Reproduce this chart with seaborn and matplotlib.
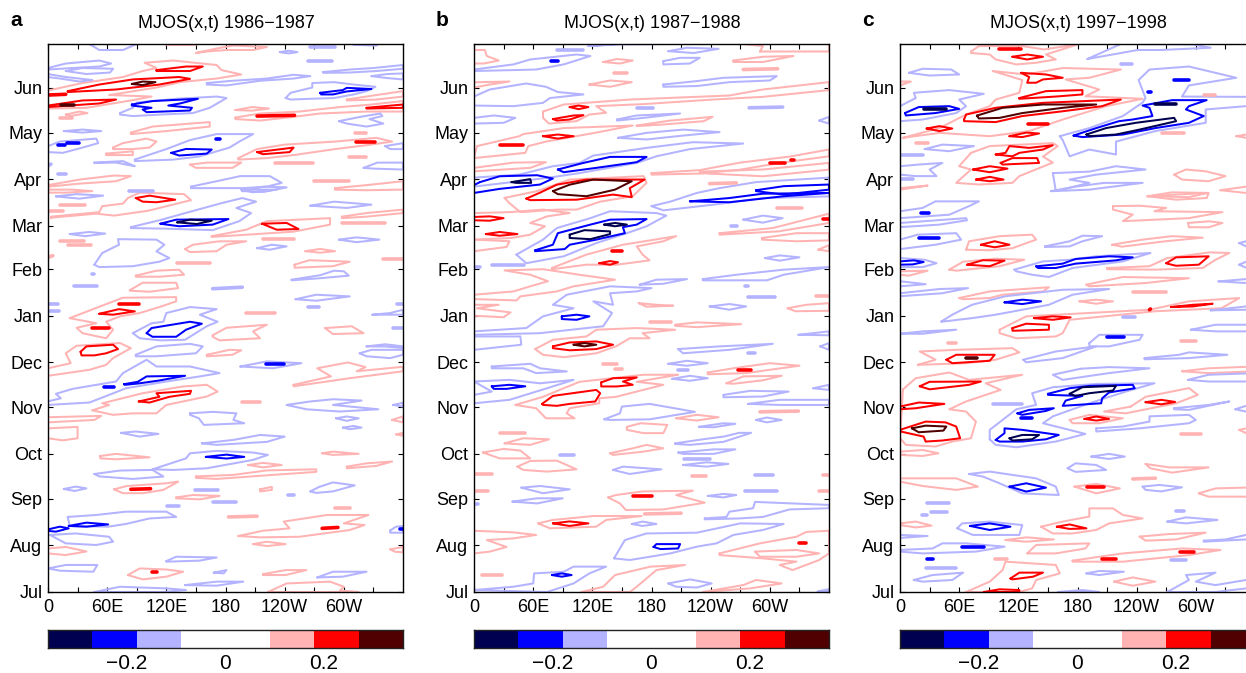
import numpy as np
import pandas as pd
import matplotlib.pyplot as plt
from matplotlib.colors import ListedColormap
import seaborn as sns

# Contour outlines: (longitude in degrees, days since 1 July)
titles = ["MJOS(x,t) 1986\u22121987", "MJOS(x,t) 1987\u22121988", "MJOS(x,t) 1997\u22121998"]
letters = ["a", "b", "c"]
month_names = ["Jul", "Aug", "Sep", "Oct", "Nov", "Dec", "Jan", "Feb", "Mar", "Apr", "May", "Jun"]
month_days = [0, 31, 62, 92, 123, 153, 184, 215, 244, 275, 306, 336]
lon_ticks = [0, 60, 120, 180, 240, 300]
lon_labels = ["0", "60E", "120E", "180", "120W", "60W"]
bar_bins = [-0.315, -0.225, -0.135, -0.045, 0.045, 0.135, 0.225, 0.315]
bar_ticks = [-0.2, 0, 0.2]
bar_labels = ["\u22120.2", "0", "0.2"]

a_weak_pos = [
    [(120,365),(150,365)],
    [(150,359),(171,362),(188,364),(222,363),(208,361),(181,361),(161,360)],
    [(0,334),(35,339),(76,343),(96,347),(110,349),(98,352.5),(127,354),(171,351),(176,347.6),(196,344.7),(171,342),(134,339.6),(110,336),(62,331),(105,330),(86,327.6),(39,322.5),(0,322)],
    [(12,316),(24,316)], [(18,318),(32,320),(40,319),(23,317)],
    [(190,321),(207,323),(224,322),(207,320.6)],
    [(190,316),(215,318.7),(255,320),(296,323),(325,324.5),(360,327),(360,320),(323,320),(276,318.7),(249,316.5),(215,314),(190,315)],
    [(303,328),(333,331),(360,333.6),(360,330),(333,328),(303,327.4)],
    [(84,306),(106,310),(164,313),(164,310),(120,307),(84,305)],
    [(66,296),(76,299),(100,302),(110,300),(103,296),(86,295),(66,295)],
    [(59,292),(86,293.5),(86,291),(59,291)],
    [(311,306),(322,306)],
    [(193,289),(212,295),(240,298),(291,300),(333,302.5),(349,300),(323,297.6),(291,295),(249,291),(222,289),(193,288)],
    [(305,289.5),(322,289.5)],
    [(144,284.7),(161,286),(196,286),(187,282.5),(150,282.5)],
    [(230,286),(269,286)],
    [(0,271),(32,274.7),(67,277.4),(84,277),(69,273.6),(32,272),(0,270)],
    [(0,268),(25,268),(45,267),(18,266),(0,266)],
    [(270,273.5),(305,273.5)],
    [(291,269),(323,271),(360,273.6),(360,268),(323,267.6),(291,268)],
    [(3,249.3),(49,252),(67,250.7),(102,254),(145,261),(138,265),(93,266),(81,262.4),(76,258.7),(55,257),(52,253),(3,250)],
    [(12,258),(38,258)], [(0,253.6),(15,253.6)],
    [(166,237),(201,241.3),(222,247),(286,249),(286,244.7),(249,240),(166,236.5)],
    [(298,250),(323,252.4),(360,254.7),(360,252.4),(323,250),(298,249)],
    [(298,245.8),(342,245.8)], [(218,235),(249,235)],
    [(139,228.4),(147,231.3),(174,233.6),(201,233.6),(181,231.3),(171,227),(144,226.4)],
    [(261,227),(276,228.5),(291,227),(276,226)],
    [(12,234),(37,234)], [(20,231),(44,231)],
    [(131,219),(164,219)],
    [(250,218),(265,221),(306,220),(289,217),(250,216)],
    [(340,222),(360,222)], [(0,223),(5,224)],
    [(89,210.7),(110,214),(133,214.7),(138,211.3),(113,210),(89,210)],
    [(83,201),(96,206),(130,206),(132,202.4),(103,200),(83,200.7)],
    [(22,182.4),(52,190),(76,196),(130,196.4),(130,193.6),(114,190),(93,185.8),(73,183.6),(59,180),(66,174.7),(59,169),(35,172.4),(29,176),(49,179)],
    [(201,186),(230,186)],
    [(167,171),(181,176),(222,178),(208,173.6),(215,169),(174,167.6),(167,170)],
    [(281,175.8),(308,177),(320,172.4),(289,171.8)],
    [(0,149),(23,152.4),(18,159),(29,164),(73,165.8),(84,162.4),(66,155.8),(59,151.3),(42,148),(0,144)],
    [(161,158),(184,161.3),(196,161),(187,158),(161,157)],
    [(249,138),(287,143.6),(273,149),(304,152.9),(322,149.8),(313,147),(360,150),(360,147),(306,142.4),(249,137)],
    [(45,121),(62,124.6),(55,125.7),(96,132.4),(137,136.9),(161,138),(172,133.5),(161,130.2),(120,124.6),(110,119),(86,119),(66,118)],
    [(197,126.4),(215,126.4)],
    [(0,116.4),(54,117.3),(47,114.6),(0,113)],
    [(0,109),(30,110),(30,102.4),(15,101),(0,102.4)],
    [(349,114.6),(360,117),(360,113)], [(353,105),(360,106),(360,104)],
    [(53,90.6),(69,92),(103,89.7),(69,88.4),(53,89)],
    [(278,92.4),(289,93.5),(315,92),(289,91.3)],
    [(203,84.6),(218,86),(237,84.6),(218,83)],
    [(150,77),(188,78),(222,81),(272,81.7),(272,80),(228,78),(171,75.3),(150,76)],
    [(303,83.5),(323,85.7),(349,86.9),(333,84),(303,82.4)],
    [(67,68.4),(80,70.6),(120,72.4),(132,73.5),(117,68),(96,65.8),(76,65.8)],
    [(215,68.4),(227,70),(227,68),(215,67)],
    [(130,63),(147,64.6),(174,64),(154,61.7),(130,62.4)],
    [(291,56),(306,56)], [(183,50),(212,50.5)],
    [(193,37.3),(218,40.8),(245,42.4),(239,46.9),(283,51.3),(325,51.3),(300,45.7),(321,44.6),(306,41.3),(255,36.8),(215,36.4)],
    [(208,31.9),(222,33.5),(241,31.9),(222,30.6)],
    [(0,29),(18,30),(39,27),(18,24.6),(0,25.7)],
    [(347,28.4),(360,30),(360,26.4),(352,26.8)],
    [(81,11.3),(93,15.7),(120,15),(137,13.5),(120,10.2),(96,8.4)],
    [(218,11.9),(241,14.6),(262,14.6),(241,11.3),(218,11.3)],
    [(223,0),(242,5.7),(286,6.9),(300,3.5),(296,1),(315,0)],
]
a_mid_pos = [
    [(110,347.6),(140,350),(157,350),(144,347),(110,347)],
    [(20,333.6),(52,338),(86,341.4),(133,343),(144,341.8),(113,338),(69,334.7),(20,333)],
    [(0,331),(18,331.5)],
    [(0,324),(35,327.4),(69,328),(52,325.4),(0,323)],
    [(212,317),(250,317.5)],
    [(323,322.5),(360,324.7),(360,322.5),(323,322)],
    [(212,293),(249,296),(245,293),(218,291.6)],
    [(312,300),(332,300)],
    [(89,262.4),(103,264),(129,261.3),(110,259.6),(96,260)],
    [(217,245.3),(242,245.8),(254,241.8),(232,241.3)],
    [(52,185.3),(72,188.4),(88,186.9),(66,184.7)],
    [(72,191.6),(92,191.6)], [(45,175.8),(62,175.8)],
    [(33,160),(39,163.6),(66,164.7),(71,161.8),(59,159),(47,157.6),(34,157.6)],
    [(92,126.9),(113,130),(110,132.4),(145,134),(144,132),(123,130),(103,126.2)],
    [(84,68.4),(104,68.8)], [(278,42.4),(294,43)], [(105,13),(111,13)],
]
a_strong_pos = [
    [(85,338.4),(96,340),(109,339.6),(96,337.6)],
    [(13,324.7),(26,324.7)],
]
a_weak_neg = [
    [(42,365),(52,361),(76,361),(90,365)],
    [(0,349),(18,352),(52,354),(64,352),(52,350),(25,349),(0,348)],
    [(18,347),(35,349),(66,348.5),(63,346),(39,345)],
    [(0,345),(18,343),(45,341),(32,340),(12,342),(0,343)],
    [(161,339),(187,340.5),(222,342),(249,344.5),(266,343.6),(249,342),(215,340.5),(181,337.4),(161,338)],
    [(235,359.6),(244,360.5),(253,359.6),(244,358.7)],
    [(266,363),(291,363)], [(264,354),(288,354)], [(310,365),(333,364.5)],
    [(279,346.3),(306,348),(330,349),(360,351),(360,348.5),(333,347),(306,346),(279,345.8)],
    [(328,343.6),(344,345),(360,345.4),(360,341.4),(344,342.3)],
    [(241,329),(246,332.5),(268,336),(268,339),(290,339.6),(310,338),(332,336.5),(323,333.6),(310,331.4),(290,329),(266,328.5),(246,328)],
    [(73,319),(86,322.5),(90,326),(130,328.5),(171,330),(181,329),(164,322.5),(147,319),(114,318),(86,317),(73,318)],
    [(295,313.6),(317,316.5),(337,318.7),(339,317),(326,315),(340,312),(323,310),(303,312)],
    [(16,307),(35,308),(54,307),(35,306)],
    [(0,297),(12,300),(49,302),(51,299),(35,296),(15,292.5),(0,293)],
    [(88,288),(120,295),(144,301),(171,305),(208,305),(194,300),(184,296),(153,290),(127,288),(88,287)],
    [(47,286),(76,287),(88,283.6),(69,286),(47,285.8)],
    [(320,282.5),(334,286),(360,286),(360,281.4),(330,282)],
    [(342,297),(360,299),(360,295),(347,295)],
    [(0,284),(3,285)], [(10,278.5),(18,278.5)],
    [(145,270),(171,273.6),(195,277),(225,277),(237,272.5),(222,270),(198,269),(171,269),(145,269)],
    [(197,267),(219,270),(242,269.5),(219,266.5)],
    [(82,267),(106,267)],
    [(8,263.5),(29,265),(56,264),(32,262)],
    [(84,243),(113,247.6),(152,254.7),(176,259),(197,262.4),(211,260),(191,255.8),(206,252.4),(194,247),(167,241),(120,242),(84,242.4)],
    [(266,257.3),(290,260),(328,258),(303,255.8)],
    [(196,268),(208,266.2),(232,268)],
    [(22,238.4),(42,239.8),(58,238.7),(38,237)],
    [(47,218),(55,225.8),(72,231.3),(71,235),(110,234.7),(118,231.3),(110,226.9),(123,222.4),(113,220),(86,217),(52,216.4)],
    [(212,229),(227,231.3),(242,230.2),(225,228)],
    [(295,234.7),(313,236.2),(336,234.7),(313,233)],
    [(45,212),(47,212)], [(26,204),(50,204)], [(167,202),(197,203)],
    [(247,208),(276,211),(290,214),(300,213.6),(305,210.7),(276,209),(247,207.6)],
    [(251,195),(272,198),(306,196.9),(272,194)],
    [(264,190),(275,190)], [(0,191.8),(10,191.8)], [(0,187),(11,187)],
    [(329,184.7),(347,185.8),(360,188),(360,184.7)],
    [(354,191.8),(360,191.8)], [(350,175.8),(360,175.8)],
    [(86,172.4),(105,179),(117,180),(120,185.8),(144,189.8),(171,188.4),(154,184.7),(172,180),(161,177),(139,168),(114,167.6),(93,169)],
    [(89,158),(110,163.6),(144,165.3),(157,163.6),(150,159),(110,157),(89,157)],
    [(195,150.2),(222,153.6),(257,152.4),(228,149)],
    [(316,159),(328,161.3),(360,161.3),(360,158),(347,155.8),(323,157)],
    [(323,163.6),(342,165),(360,163.6),(360,162.5),(342,163.5)],
    [(0,124.6),(42,126.2),(62,131.3),(79,135.7),(120,140.2),(154,143.6),(174,145.8),(144,150.2),(110,150.2),(100,154.7),(76,145.8),(69,140.2),(25,135.3),(8,132),(13,129),(0,127)],
    [(144,119),(167,120),(191,119),(188,114.6),(199,112.4),(158,111.3),(153,115.7),(144,118)],
    [(74,106),(89,106.9),(112,105.3),(93,103.5)],
    [(156,99),(188,101.3),(215,104.6),(240,103.5),(222,100),(171,98)],
    [(242,124.6),(266,126.9),(289,128.4),(318,127.5),(289,124.6),(335,121.7),(296,120.2),(262,121.7)],
    [(292,115.7),(303,116.9),(315,115.7),(303,114)],
    [(299,109.5),(310,110.6),(318,109.5),(306,108.4)],
    [(350,124.6),(360,126),(360,123.5)],
    [(106,81.7),(140,89),(144,92.4),(171,94),(208,92.9),(223,91.3),(208,88),(161,82.4),(127,81.3)],
    [(47,78.6),(73,80.9),(106,81.3),(117,76.9),(86,75.3),(52,77)],
    [(16,68.6),(28,70.2),(39,69),(27,67.3)],
    [(149,68),(172,68)], [(167,60),(191,60)], [(243,64.8),(249,64.8)], [(121,57),(133,57)],
    [(266,67),(275,70),(289,73),(311,71),(289,67),(272,66)],
    [(20,50),(49,51.3),(79,53.5),(120,53.5),(130,50),(103,49),(79,45.3),(61,43.5),(22,44)],
    [(2,38),(28,39),(62,36.8),(66,33.5),(49,31.3),(18,32.4)],
    [(347,41),(353,43.5),(360,44),(360,39.5),(347,39.5)],
    [(120,20.6),(130,23.5),(171,23),(154,20.9),(120,20.2)],
    [(0,15.7),(18,18),(50,18),(46,13.5),(12,14.2)],
    [(168,12.9),(181,14.6),(178,12.4)],
    [(273,9.7),(289,13.5),(323,13.5),(299,10.2)],
    [(139,4.6),(171,6.9),(198,6.9),(171,4.2)],
    [(47,0),(73,3.5),(120,2.4),(140,1.3),(117,0)],
]
a_mid_neg = [
    [(85,324.7),(106,327),(152,328.5),(134,325.4),(122,324),(146,322.5),(144,320.7),(100,319.6),(96,321.4),(105,322.5),(85,324)],
    [(276,332.5),(299,334.3),(303,335.8),(328,335),(303,333.4),(289,331.4),(277,331.4)],
    [(125,292.5),(140,295.1),(166,294.7),(161,292),(133,290.7)],
    [(10,297.6),(17,297.6)], [(19,299),(31,299)], [(170,301.4),(174,301.4)],
    [(114,245.3),(130,248),(183,248.4),(167,244.7),(133,243.6)],
    [(100,172.4),(105,175.8),(144,180),(156,178.7),(140,174.7),(130,170),(106,170)],
    [(221,151.8),(239,151.8)],
    [(77,138.4),(91,140),(100,143.6),(139,144),(113,140.9),(93,139),(78,138)],
    [(57,136.5),(67,136.5)],
    [(160,90),(181,91.5),(199,90),(181,88.9)],
    [(0,41.7),(12,43.5),(21,42.4),(8,40.2),(0,40.7)],
    [(21,44),(39,46.2),(61,45),(39,43.5)],
    [(357,41.7),(360,41.7)],
]
a_strong_neg = [
    [(131,246.2),(144,248),(166,247.3),(151,245.1)],
]

b_weak_pos = [
    [(0,361),(11,361),(13,357),(25,354),(10,352),(0,352)],
    [(131,353),(145,355),(161,354),(148,352)],
    [(142,346),(155,346)],
    [(263,354),(293,356.5),(324,357),(293,353),(263,353)],
    [(290,360),(293,363.6),(273,365),(360,365),(360,360)],
    [(273,348),(308,348.5)],
    [(0,339.5),(36,340),(16,338),(0,336)],
    [(117,338),(138,340.7),(160,339.6),(138,336.5)],
    [(70,320),(91,324.7),(158,328),(259,330.7),(293,334.7),(360,339.6),(360,334.3),(293,329.8),(242,328),(173,325),(124,323.6),(134,319.2),(117,318),(104,313.6),(76,312),(70,315.8)],
    [(165,310.7),(199,314),(242,316.5),(233,313.6),(192,311.4),(165,310.3)],
    [(3,297),(46,303.6),(50,305),(91,309),(161,310.7),(124,306),(73,300),(55,297),(52,292.5),(0,289)],
    [(0,282.5),(40,286),(73,286.3),(57,282.5),(0,280.2)],
    [(180,279),(229,281),(270,286),(320,290),(360,294.7),(360,290.2),(310,285.8),(270,281.3),(229,278.7),(180,278)],
    [(229,280),(293,281.4),(360,285.8),(360,281.3),(293,276.9),(229,279)],
    [(239,272),(266,272.5)],
    [(31,262.5),(64,267),(97,274.7),(172,277),(175,272.5),(161,263.6),(128,260),(104,254.7),(84,254.7),(47,253),(36,259)],
    [(0,234.7),(38,235.8),(57,238),(72,243.6),(57,245.8),(74,250.2),(97,252.4),(70,254.7),(36,253),(0,252.4)],
    [(0,227),(33,229.8),(36,233.6),(0,234.7)],
    [(79,215.8),(114,224.7),(151,231.3),(205,237),(192,233.6),(165,230.2),(171,224.7),(178,220.9),(145,218),(114,218),(79,215)],
    [(0,198),(40,200.2),(57,203.6),(75,207),(57,211.3),(31,214.2),(70,215),(107,211.3),(143,208),(101,203.6),(84,200.2),(47,196.9),(43,194.2),(0,195.1)],
    [(0,191.3),(25,191.3),(3,189),(37,186.2),(30,183),(0,184)],
    [(167,192.4),(185,191.3),(202,190.7),(175,190)],
    [(178,179.8),(200,179.8)],
    [(204,178),(226,179.6),(271,178.4),(226,176.4),(204,177.3)],
    [(62,161.8),(80,168),(114,170.2),(124,174.7),(165,175.8),(204,174.7),(171,172.4),(178,169),(158,169),(144,163.6),(124,159),(91,156.4),(70,158)],
    [(318,189),(337,191.3),(360,192.4),(360,187.3),(326,187)],
    [(347,197),(360,197)],
    [(349,228),(360,231),(360,227)],
    [(249,239),(303,242.4),(360,252),(360,245.8),(309,240.2),(249,238)],
    [(292,235.8),(327,239),(360,239),(360,234.2),(327,233.6),(292,234.7)],
    [(307,256),(333,256)], [(131,152),(145,152)], [(143,148.6),(150,148.6)],
    [(237,146.2),(263,149),(300,152.4),(330,150.7),(300,148),(276,145.8),(237,145)],
    [(256,139),(273,143.6),(312,144),(293,141),(263,138.7)],
    [(42,124.6),(70,130),(91,135.7),(107,140),(172,144.7),(207,144.7),(165,140),(192,138),(144,130),(127,129),(127,125.7),(97,122.4),(94,119),(102,115.7),(73,115.7),(63,122.4)],
    [(155,110),(169,112.4),(196,111.3),(192,105.8),(172,105.8),(155,108)],
    [(205,115.7),(226,118),(248,116.4),(226,114.2)],
    [(290,120),(329,120.5)], [(26,105.7),(52,105.7)],
    [(31,99),(50,102.4),(76,101.7),(57,98)],
    [(9,92.9),(30,95.3),(47,94.2),(57,89),(26,89)],
    [(44,83.5),(57,87.3),(84,87.5),(104,81.7),(74,80.2),(50,81.3)],
    [(138,92.4),(161,95.7),(175,98),(192,95.7),(172,93.5),(141,91.3)],
    [(0,78.4),(18,78.4)], [(0,67.5),(14,67.5)], [(221,77),(235,77)], [(354,78),(360,78)], [(350,67.5),(360,67.5)],
    [(136,63),(144,64.6),(171,67),(222,67.5),(205,64.6),(234,59.5),(192,55),(154,54.6),(148,59)],
    [(173,52),(210,52.5)],
    [(65,45.7),(80,48),(121,50.6),(170,50.6),(134,48),(124,43.5),(77,42.4)],
    [(0,40.8),(40,39.7),(63,38),(40,35.7),(13,34.6),(33,30),(16,26.9),(0,25.7)],
    [(8,11.3),(28,11.3)],
    [(109,0),(131,3.5),(143,11.3),(179,16.9),(214,18),(185,14.6),(165,3.5),(158,0)],
    [(249,25.7),(290,32.4),(327,36.8),(337,40),(360,40.8),(360,25.7),(350,21.3),(323,14.6),(310,18),(327,20.2),(293,22.4),(249,24.6)],
    [(285,26.9),(327,28),(350,25.7),(327,23.5),(290,23.5)],
    [(273,4.6),(286,8),(312,5.7),(280,2.4),(232,0)],
]
b_mid_pos = [
    [(97,323),(106,324),(116,323),(106,321.6)],
    [(80,315),(101,317.4),(111,317.6),(97,314.7),(84,314)],
    [(70,303.6),(85,304.7),(101,303.6),(85,302)],
    [(26,297.6),(50,297.6)], [(300,286),(315,286)], [(321,288),(324,288)],
    [(53,262),(67,266),(84,271.3),(114,274.7),(173,274.7),(158,269),(160,263),(141,264.7),(104,261.3),(57,261)],
    [(0,249.8),(16,250.2),(30,249),(16,247.3),(0,247.6)],
    [(12,238.4),(26,239.8),(44,238.4),(26,237.3)],
    [(354,248.4),(360,248.4)], [(140,226.9),(150,226.9)],
    [(127,219),(138,220.4),(146,219.6),(138,218)],
    [(80,163.6),(97,166.2),(124,166.9),(141,164.7),(124,161.8),(97,161),(80,162.4)],
    [(268,147.6),(281,147.6)],
    [(129,139.6),(141,142.4),(165,142.9),(151,140.2),(161,138),(145,136.9),(129,136.9)],
    [(69,125.3),(80,130.6),(124,134.6),(128,132.4),(123,126.9),(97,125.3),(84,124),(70,124.6)],
    [(161,64),(180,64)],
    [(80,45.7),(97,47),(116,45.7),(97,44)],
    [(330,32.9),(337,32.9)],
]
b_strong_pos = [
    [(80,267),(97,271.3),(121,274.7),(160,273.6),(143,268),(114,263.6),(85,265)],
    [(101,164.7),(112,165.8),(124,164.7),(112,163.6)],
]
b_weak_neg = [
    [(0,348),(40,351.4),(57,354.7),(104,358),(118,357),(91,351.4),(63,348),(0,347)],
    [(84,360.7),(111,360.7)],
    [(116,363.6),(145,364.7),(199,365),(145,365)],
    [(197,360.2),(216,362.5),(248,361.8),(223,359)],
    [(192,353.6),(209,355.8),(229,355.8),(219,352),(192,351.4)],
    [(192,338),(226,340.3),(253,342.5),(307,343.6),(300,340.7),(259,339.6),(226,337),(192,336.5)],
    [(0,330),(16,334.7),(53,338.7),(73,336.5),(85,333),(111,331.4),(77,329),(70,325.8),(40,323.6),(0,324)],
    [(165,322.5),(182,322.5)], [(279,322.5),(313,323)],
    [(0,315.8),(20,317.4),(42,315.8),(30,312.5),(0,312)],
    [(145,314.7),(165,317.4),(209,318.7),(175,316),(145,314)],
    [(146,302.5),(175,305.8),(212,308),(249,306.3),(212,304),(175,301.4)],
    [(350,314),(360,316.5),(360,312)],
    [(0,276),(46,278),(80,283.6),(107,285.8),(121,290.7),(175,295.8),(222,299.6),(273,298.7),(219,295),(185,290.2),(165,285.8),(107,279),(74,275.8),(0,270)],
    [(180,257),(199,260),(226,265.8),(249,269),(286,273),(360,276),(360,267),(360,263.5),(293,262.4),(243,258),(192,254.2)],
    [(295,222.4),(310,224.2),(330,222.9),(310,220.7)],
    [(273,248),(293,250.7),(313,249),(293,246)],
    [(261,244),(267,244)],
    [(43,224.7),(70,234.7),(84,242.4),(118,249),(138,253.6),(185,252.4),(195,250.7),(175,243.6),(155,239),(124,232.4),(91,223.6),(81,222.4),(53,219)],
    [(18,218),(51,218)], [(0,216.5),(6,216.5)],
    [(168,204.7),(185,208),(216,208.4),(192,205.3)],
    [(232,208.4),(266,211.3),(314,214.7),(360,216.4),(314,211.3),(297,207.6),(232,207.6)],
    [(0,173.6),(53,175.8),(70,183.6),(101,189),(80,191.3),(94,198),(138,203.6),(180,202.4),(165,200.2),(138,199),(141,191.3),(121,193.6),(140,185.8),(131,177),(67,172.4),(0,171.3)],
    [(0,170.2),(47,170.2),(48,164.7),(0,161.3)],
    [(239,190.2),(259,191.8),(276,190.2),(259,188)],
    [(278,196.4),(305,196.4)], [(275,204),(278,204)],
    [(329,171.3),(360,173.6),(360,171)],
    [(351,163.6),(360,165.8),(360,161.3)],
    [(207,161.8),(249,163.6),(303,165.3),(259,161.3),(212,159)],
    [(278,159.5),(285,159.5)],
    [(197,152),(216,154),(237,152.4),(216,150.7)],
    [(207,148),(217,148)],
    [(201,142),(219,144),(237,142.4),(219,140.7)],
    [(18,150.2),(57,152),(67,149),(94,146.9),(63,145.8),(50,149),(18,149)],
    [(0,125.7),(36,128),(74,135.7),(101,141.3),(67,139),(36,141.3),(0,140.2),(18,133.5),(0,131.3)],
    [(344,135.7),(360,138),(360,134.6)],
    [(253,131.3),(280,134),(319,133.5),(293,130.2),(253,129.7)],
    [(278,125.3),(310,128),(360,128),(360,124.6),(310,124.6)],
    [(132,115),(148,119),(150,123.5),(178,125.3),(224,120),(178,115),(138,114.6)],
    [(228,110),(253,112.4),(265,112),(243,109.7)],
    [(286,114.6),(297,116.2),(312,114.6),(297,113)],
    [(204,99),(232,101.7),(253,103.5),(269,106),(281,106),(253,100),(219,98),(204,98.6)],
    [(207,92.9),(243,95),(265,95),(243,92),(212,92)],
    [(213,88.9),(239,88.9)],
    [(212,84.6),(236,86.4),(258,85.3),(236,83.5)],
    [(141,81.3),(151,83.5),(190,81.7),(158,78.6)],
    [(87,91.3),(101,91.3)], [(285,78),(303,78)], [(275,67.5),(307,67.5)],
    [(237,64),(253,65.3),(266,64.6),(253,63)],
    [(48,69.5),(67,70.6),(97,68.4),(70,65.8)],
    [(39,60.2),(64,62.4),(90,62.4),(64,59)],
    [(0,58.5),(4,58.5)],
    [(142,22.4),(153,34.6),(175,39),(226,39.5),(270,45.7),(314,45.3),(293,41.3),(263,38),(246,32.4),(226,30.2),(199,25.7),(158,21.3)],
    [(234,49),(256,50),(259,53.5),(283,55.8),(285,60),(360,58),(360,55.8),(320,55),(293,50),(269,49),(234,48.4)],
    [(160,45.3),(171,46.9),(185,45.3),(171,44)],
    [(0,1.3),(40,3.5),(60,5.7),(61,12.4),(91,13.5),(101,16.9),(134,16.9),(117,12.4),(101,5.7),(74,0)],
    [(197,5.7),(219,8.4),(241,5.7),(226,3),(205,3.5)],
    [(349,0),(360,1.3)],
]
b_mid_neg = [
    [(78,353.8),(85,353.8)],
    [(6,273),(26,276.9),(64,277.6),(80,275.4),(67,271.4),(26,268.5),(0,265.8),(0,271)],
    [(85,281.4),(111,285.8),(138,289.8),(175,289.8),(165,286.3),(124,282.5),(91,279.6)],
    [(286,267.6),(314,270.3),(360,271.4),(360,268),(314,264.7),(286,267)],
    [(219,260.2),(259,262.4),(293,265.3),(360,265.8),(314,263.6),(259,259.6)],
    [(62,227.6),(80,231.3),(85,239),(118,244.7),(138,248),(175,248.4),(165,244.7),(151,243),(153,239),(124,234.7),(97,231.3),(92,228.4),(62,227)],
    [(89,183.6),(104,184.7),(117,183.6),(104,181.3),(89,181.8)],
    [(18,137),(36,138),(52,137),(33,135.3),(20,135.3)],
    [(182,30),(185,31.9),(209,31.9),(207,29),(189,28.6)],
    [(79,11.3),(89,12.4),(99,11.3),(89,10.2)],
]
b_strong_neg = [
    [(38,273),(57,275),(58,272.5),(43,272.5)],
    [(97,238),(112,241),(138,240.2),(138,238.4),(118,235),(97,235.8)],
    [(132,244.7),(143,245.8),(155,244.7),(143,243.6)],
]

c_weak_pos = [
    [(72,360),(80,363.6),(124,363.6),(146,361.4),(180,364.7),(148,358),(158,354.7),(138,352.5),(118,351.4),(97,354.7),(91,358),(72,359)],
    [(3,302.5),(40,309),(67,318),(91,323.6),(97,328),(121,332.5),(124,341),(94,347),(128,344.7),(165,349),(224,348),(192,342.5),(168,341.4),(202,334.7),(188,330.2),(246,328.5),(209,323.6),(165,314.7),(131,307),(91,303.6),(40,305.8)],
    [(0,340),(11,340),(0,337.4)],
    [(16,299),(28,299)],
    [(72,292.5),(91,297),(155,299),(160,297),(145,290),(155,286),(121,277),(114,272.5),(80,271.4),(57,272.5),(72,281.4),(60,283.6)],
    [(0,269),(28,270.7),(0,268)],
    [(266,306),(288,306)],
    [(341,303.6),(351,304.7),(360,304),(351,302.5)],
    [(278,278),(290,281.4),(310,280.2),(330,277),(313,273.6),(286,274.7)],
    [(308,331),(319,331)],
    [(251,263.6),(276,266.2),(312,265.8),(293,263)],
    [(325,267.6),(351,270),(360,271),(360,266),(351,265.8)],
    [(251,263.6),(280,264.7),(313,265.8),(311,262.4),(280,261.3)],
    [(216,257),(243,257.3),(270,255.8),(258,253.6),(327,253),(293,249),(226,247),(236,251.3),(216,254.7)],
    [(292,245.8),(313,246.9),(327,245.8),(313,242.9),(293,243)],
    [(67,228),(70,233.6),(101,237),(134,238),(138,234.7),(114,229),(91,227.6)],
    [(215,231.3),(246,234.7),(276,237),(307,236),(269,233.6),(225,230)],
    [(50,214.7),(64,220),(97,222),(126,221.3),(101,217),(57,214)],
    [(210,215.8),(253,217),(271,222.4),(314,226.2),(334,225.8),(320,221.3),(307,215.8),(259,214.7),(210,215)],
    [(0,213.6),(28,214),(9,210.7),(0,211.3)],
    [(189,204.7),(226,209.8),(293,209),(249,205.8),(192,203.6)],
    [(236,199.8),(270,199.8)],
    [(60,195.8),(91,200.2),(151,203),(145,200.2),(104,198),(91,195.8),(64,195)],
    [(182,193.6),(199,194.7),(216,193.6),(199,192)],
    [(101,174.7),(114,179),(128,183.6),(253,188),(293,193.6),(344,195.8),(326,189),(259,187),(172,181.3),(165,172.4),(158,170.2),(118,169),(101,172.4)],
    [(285,167),(300,167)], [(49,165.6),(57,165.6)],
    [(18,151.3),(36,154.7),(20,160.2),(57,161.3),(114,162.4),(121,159.6),(97,154.7),(67,152.4)],
    [(286,147),(313,149),(360,150.2),(360,147),(313,145.8)],
    [(3,135),(16,142.4),(50,146.2),(70,141.3),(124,144.7),(87,139),(102,134.6),(67,126.9),(50,121.7),(67,120.2),(77,113.5),(72,102.4),(53,100.2),(36,96.9),(6,98),(0,102.4)],
    [(0,93.5),(23,94.6),(39,92.4),(23,90.6),(0,91.3)],
    [(0,75.7),(16,75.7),(57,75.7),(79,70.2),(57,68),(23,70.6),(0,73.5)],
    [(303,65.7),(320,69),(360,69.7),(360,63.5),(313,63.5)],
    [(249,85.3),(273,83),(313,83),(276,79.5),(254,82.4)],
    [(236,75.3),(259,75.8)],
    [(177,70.2),(199,72),(223,69),(199,65.7)],
    [(0,45.7),(16,46.9),(32,44.2),(16,43),(0,44.6)],
    [(143,43.5),(165,46.9),(192,50.2),(192,55.7),(216,55.7),(226,51.3),(246,49),(212,45.7),(199,41.3),(175,39),(155,39)],
    [(243,36.9),(273,38.6),(310,39.5),(280,35),(249,34.2)],
    [(107,34.6),(128,36.4),(156,35),(128,33.5)],
    [(129,25.7),(138,31.3),(192,32.4),(188,29),(158,25.7)],
    [(175,20.9),(226,25.7),(286,29),(325,28),(293,24.6),(226,20.2),(175,20.2)],
    [(96,22),(109,22)],
    [(67,0),(91,6.9),(104,14.6),(107,20.2),(158,18),(162,12.4),(138,8),(134,2.4),(121,0)],
    [(217,6.9),(236,9.7),(259,6.9),(236,4.2)],
    [(234,123.5),(249,130),(293,135.8),(302,131.3),(280,125.7),(229,119),(207,120.2)],
    [(172,114.6),(192,118),(226,115.7),(202,112.4),(175,112.4)],
    [(285,105),(305,105)],
    [(344,108),(351,109),(360,110),(360,106),(351,105.8)],
]
c_mid_pos = [
    [(100,362),(123,362)],
    [(114,356.5),(129,358),(145,356.5),(129,354.7)],
    [(123,345.8),(148,344.7),(165,342.5),(145,341.4),(138,339.2),(129,339.2),(131,343)],
    [(121,329),(148,333.6),(185,334.3),(185,331.4),(158,330),(121,328.5)],
    [(65,314.7),(67,318),(97,322.5),(145,325.8),(224,328),(205,323.6),(165,320.2),(124,317),(97,313),(65,313.6)],
    [(27,308.7),(40,310.3),(53,308.7),(40,307)],
    [(130,312),(150,312)],
    [(111,303.6),(128,306),(141,305.4),(124,303)],
    [(97,291.4),(107,292.5),(111,297),(131,295.8),(155,297.6),(145,294.7),(121,292.5),(114,290.2)],
    [(102,285.8),(114,289),(139,289),(141,285.8),(104,284.7)],
    [(74,281.4),(91,283.6),(109,282),(91,279.6)],
    [(77,274.7),(91,276.5),(105,274.7),(91,273.6)],
    [(82,231.3),(96,233.6),(111,231.3),(96,229.6)],
    [(68,218),(84,221),(106,220.7),(91,217)],
    [(270,219),(280,222.9),(313,223.6),(307,220.2),(303,218),(280,217.3),(271,218.7)],
    [(136,182.4),(155,183.6),(173,182.9),(155,181.3)],
    [(114,175.8),(128,178.7),(151,178),(151,174.7),(114,174)],
    [(275,189.8),(297,191.3),(317,192),(297,190.2)],
    [(253,188),(254,188.5)],
    [(47,154.7),(57,158),(96,158),(91,154),(53,152.4)],
    [(20,137),(30,140),(82,140.2),(70,138),(30,135)],
    [(0,123.5),(19,126.2),(45,125.3),(16,122.4),(0,121.7)],
    [(249,126.4),(265,128),(279,126.6),(265,125)],
    [(187,115.3),(199,116.9),(212,115.3),(199,114.2)],
    [(0,108),(26,113.5),(46,113),(57,110.2),(61,102.4),(43,100.9),(26,100.2),(24,103.5),(0,107)],
    [(190,69.7),(207,69.7)],
    [(159,43.5),(172,45),(189,42.4),(172,42)],
    [(284,26.6),(298,26.6)], [(205,21.7),(219,21.7)],
    [(112,9),(121,12.9),(145,12.9),(135,10.2),(114,8.4)],
    [(85,0),(101,1.8),(121,1.3),(121,0)],
]
c_strong_pos = [
    [(78,317.3),(104,322.5),(145,324.7),(199,324.7),(165,322.5),(124,319),(101,315.8),(80,315.4)],
    [(67,155.6),(78,155.6)],
    [(12,109),(26,110.8),(47,110.2),(44,107.5),(19,106.4)],
]
c_weak_neg = [
    [(190,355),(224,359),(241,361),(264,361),(315,362.5),(297,364.7),(224,365)],
    [(224,351.8),(235,351.8)],
    [(9,345.8),(23,348.5),(52,348),(60,344.7),(30,344)],
    [(0,313.6),(0,323.6),(16,329),(14,332.5),(50,334.3),(85,331.8),(60,328),(67,323.6),(57,319),(23,314.7)],
    [(162,303.6),(192,309),(226,317),(246,326),(249,329),(242,341),(253,348),(293,350),(341,342.5),(293,337.4),(286,330),(351,329.8),(360,329),(360,322),(351,323.6),(310,321.4),(310,312.5),(259,307),(219,300),(219,291.4),(192,294.7),(172,290.2),(165,301)],
    [(25,295),(43,298),(75,297),(50,293.6)],
    [(0,291),(23,291)],
    [(0,283.6),(19,284.7),(43,285.8),(30,281.4),(37,277),(16,277),(0,278)],
    [(0,275),(13,275)],
    [(155,279),(192,280),(219,283.6),(249,281.4),(199,278),(172,274.7),(192,272.5),(158,267)],
    [(153,267),(178,270),(207,272.5),(246,272.5),(192,268),(155,267)],
    [(0,253.6),(23,255.8),(36,260.2),(80,260.2),(70,257),(50,251.3),(0,249)],
    [(0,245.8),(67,249),(68,247.6),(40,244.7),(0,243)],
    [(0,234.7),(18,238),(57,239),(62,234.7),(36,231.3),(0,228.4)],
    [(147,230.2),(172,233.6),(185,237.3),(205,237),(185,233.6),(172,230.2),(147,229.8)],
    [(0,222.4),(25,221.3),(37,219),(23,216.4),(0,216.4)],
    [(0,207),(26,205),(0,203.6)],
    [(0,199),(40,201.8),(69,202.4),(43,199),(0,197)],
    [(116,214.7),(145,220.2),(172,221.3),(199,223.6),(254,225.8),(226,220.2),(175,215.8),(151,209.8),(134,211.3),(118,213.6)],
    [(42,180.2),(53,184.7),(73,191.3),(107,197),(165,201.3),(212,201.8),(175,198),(151,191.3),(97,184.7),(73,182.4),(42,180)],
    [(0,172),(23,173.6),(57,174.7),(23,172)],
    [(323,206.9),(351,208.4),(360,209),(360,205),(351,205.8)],
    [(315,187.6),(351,190.2),(360,190.5),(360,187),(351,188)],
    [(344,232.4),(351,233.6),(360,235),(360,228),(351,230.2)],
    [(344,218),(351,220),(360,221),(360,214),(351,216)],
    [(226,183),(238,183)],
    [(295,174.7),(320,178),(360,178),(360,173.6),(320,173.6)],
    [(192,165.8),(202,171.3),(246,171.3),(243,168),(212,163.6),(192,163.6)],
    [(125,154.7),(158,160.2),(199,163.6),(165,155.8),(128,153)],
    [(248,155.8),(283,158),(293,159.6),(332,158),(293,155.8),(248,155)],
    [(183,148.7),(212,149.8),(253,149),(212,145.8),(165,141.3),(155,144.7)],
    [(292,141.3),(313,144.7),(360,145.8),(360,140.2),(313,140.2)],
    [(91,101.7),(91,108),(104,114.6),(118,121.7),(138,124.6),(134,132.4),(155,136.4),(199,138.6),(258,139),(229,133.5),(192,125.7),(155,117),(145,112.4),(188,105.3),(158,100.2),(118,96.4),(97,98)],
    [(94,125.3),(124,125.3)],
    [(199,109),(226,110.2),(253,113.5),(253,117),(293,118),(300,114.6),(293,112.4),(243,109),(199,106.9)],
    [(278,122.4),(313,124.6),(334,126.9),(293,121.3),(278,121.7)],
    [(340,121.7),(351,124),(360,125),(360,119),(351,120.2)],
    [(194,90.2),(212,92),(228,90.2),(212,88.6)],
    [(170,82.4),(178,85.7),(199,84.6),(209,81.3),(178,80)],
    [(70,78.6),(91,80.2),(138,75.7),(158,70.2),(161,64.6),(124,65.7),(101,72.4),(84,76.9)],
    [(246,70.2),(263,71.3),(286,69.7),(265,67),(249,68)],
    [(27,59.5),(50,59.5)], [(31,53),(48,53)], [(22,51),(27,51)], [(280,54.2),(288,54.2)],
    [(271,46.9),(290,49.7),(322,48),(290,45.7)],
    [(58,42.4),(63,45.7),(91,46.9),(124,44.6),(121,38),(74,38)],
    [(0,38),(28,37.3),(0,36)],
    [(0,28),(33,29),(43,32.4),(67,32.4),(106,30.2),(77,26.9),(23,25.7),(0,26.9)],
    [(26,16.2),(57,16.2)],
    [(14,8),(33,11.3),(64,12.9),(53,8),(23,6.9)],
    [(189,12.4),(202,14),(227,13.5),(202,11.3)],
    [(271,0),(293,8),(290,11.3),(320,12.9),(300,6.9),(320,4.6),(351,8),(360,9),(360,2),(351,2.4),(320,0)],
    [(275,21.3),(290,21.3)],
    [(308,34.2),(330,35),(351,38),(360,39),(360,36),(351,35),(308,33.5)],
    [(160,0),(185,1.3),(202,0)],
]
c_mid_neg = [
    [(5,319),(19,323),(50,323.6),(60,321.8),(36,319),(6,317.4)],
    [(251,333),(255,333)], [(278,340.7),(293,340.7)],
    [(176,304),(199,309),(222,313.6),(236,314.7),(256,317),(253,322.5),(246,324),(276,327.6),(311,327.6),(293,323.6),(290,321.4),(308,317),(293,312.5),(259,309),(226,304.7),(185,303)],
    [(19,236),(40,236)], [(21,252.2),(29,252.2)],
    [(0,220.2),(14,220.9),(24,219.8),(13,218.2),(0,218)],
    [(138,216.9),(165,218.7),(178,221.8),(212,223.6),(236,222.9),(219,220.9),(178,218.7),(158,215.8),(140,215.8)],
    [(106,192.9),(124,194.7),(143,193.6),(124,191.8)],
    [(210,169.8),(227,169.8)],
    [(150,132),(172,135.7),(192,137.3),(236,138),(238,135.7),(212,132.9),(205,129),(204,125.7),(165,124),(168,127.5),(185,130.6),(150,131.3)],
    [(119,119),(131,121.3),(156,122.4),(148,120.6),(124,118)],
    [(123,115.7),(134,115.7)],
    [(97,101.3),(106,105.8),(106,109),(124,108),(161,104.6),(148,101.7),(124,100.2),(101,100.2)],
    [(111,70.2),(128,72.4),(148,69.5),(128,66.9)],
    [(71,44),(91,45.7),(112,43.5),(91,41.3)],
    [(63,29.7),(85,29.7)], [(27,21.7),(33,21.7)],
]
c_strong_neg = [
    [(24,321.6),(47,321.6)], [(259,325),(280,325)],
    [(189,304.7),(209,309),(239,312.5),(278,315.8),(280,313.6),(243,308),(219,304.7),(192,303.6)],
    [(172,132),(185,136.4),(219,137.3),(216,134.2),(192,132.4),(178,130.6)],
    [(111,102.4),(124,104.6),(141,104.6),(134,101.7),(114,100.9)],
]

panels = [
    {"weak_pos": a_weak_pos, "mid_pos": a_mid_pos, "strong_pos": a_strong_pos,
     "weak_neg": a_weak_neg, "mid_neg": a_mid_neg, "strong_neg": a_strong_neg},
    {"weak_pos": b_weak_pos, "mid_pos": b_mid_pos, "strong_pos": b_strong_pos,
     "weak_neg": b_weak_neg, "mid_neg": b_mid_neg, "strong_neg": b_strong_neg},
    {"weak_pos": c_weak_pos, "mid_pos": c_mid_pos, "strong_pos": c_strong_pos,
     "weak_neg": c_weak_neg, "mid_neg": c_mid_neg, "strong_neg": c_strong_neg},
]

level_colors = {"weak_pos": "#ffb3b3", "weak_neg": "#b3b3ff", "mid_pos": "#ff0000",
                "mid_neg": "#0000ff", "strong_pos": "#500000", "strong_neg": "#000050"}
level_order = ["weak_pos", "weak_neg", "mid_pos", "mid_neg", "strong_pos", "strong_neg"]
bar_cmap = ListedColormap(["#000050", "#0000ff", "#b3b3ff", "#ffffff", "#ffffff", "#ffb3b3", "#ff0000", "#500000"])

sns.set_theme(style="ticks")
plt.rcParams["font.family"] = ["Liberation Sans", "DejaVu Sans"]


def contour_table(panel):
    # two-point entries are the tiny contours, drawn as short thick dashes
    rows = []
    n = 0
    for level, contours in panel.items():
        for pts in contours:
            closed = pts + [pts[0]] if len(pts) > 2 else pts
            for lon, day in closed:
                rows.append((n, level, lon, day, len(pts) == 2))
            n += 1
    return pd.DataFrame(rows, columns=["contour", "level", "lon", "day", "dash"])


W, H = 1246, 673
fig = plt.figure(figsize=(W / 100, H / 100), dpi=100)
lefts = [48, 474, 900]

for i, left in enumerate(lefts):
    ax = fig.add_axes([left / W, 1 - 592 / H, 355 / W, 548 / H])
    table = contour_table(panels[i])
    for is_dash, lw in [(False, 1.45), (True, 2.6)]:
        sns.lineplot(data=table[table["dash"] == is_dash], x="lon", y="day", hue="level", units="contour",
                     estimator=None, sort=False, hue_order=level_order, palette=level_colors,
                     legend=False, linewidth=lw, ax=ax)
    for line in ax.lines:
        line.set_solid_joinstyle("round")
        line.set_solid_capstyle("round")
    ax.set_xlim(0, 360)
    ax.set_ylim(0, 365)
    ax.set_xlabel("")
    ax.set_ylabel("")
    ax.set_xticks(np.arange(0, 360, 30))
    ax.set_xticklabels([lon_labels[lon_ticks.index(t)] if t in lon_ticks else "" for t in range(0, 360, 30)])
    ax.set_yticks(month_days)
    ax.set_yticklabels(month_names)
    ax.tick_params(direction="in", top=True, right=True, length=3.5, width=0.8, labelsize=13, colors="black")
    ax.tick_params(axis="x", pad=5)
    ax.tick_params(axis="y", pad=4)
    for s in ax.spines.values():
        s.set_visible(True)
        s.set_linewidth(1.0)
        s.set_color("black")
        s.set_zorder(5)
    fig.text((left + 178) / W, 1 - 23 / H, titles[i], ha="center", va="center", fontsize=13, color="black")
    fig.text((left - 38) / W, 1 - 20 / H, letters[i], ha="left", va="center", fontsize=15, fontweight="bold", color="black")

    cax = fig.add_axes([left / W, 1 - 648 / H, 355 / W, 18 / H])
    sns.heatmap(np.array(bar_bins).reshape(1, -1), cmap=bar_cmap, vmin=-0.36, vmax=0.36, cbar=False,
                xticklabels=False, yticklabels=False, ax=cax)
    cax.set_xticks([(t + 0.36) / 0.09 for t in bar_ticks])
    cax.set_xticklabels(bar_labels)
    cax.set_yticks([])
    cax.tick_params(axis="x", direction="in", top=True, bottom=True, length=2.5, width=0.7, labelsize=15, pad=4, colors="black")
    for s in cax.spines.values():
        s.set_visible(True)
        s.set_linewidth(1.0)
        s.set_color("#222222")

fig.savefig("out.png", dpi=100)
